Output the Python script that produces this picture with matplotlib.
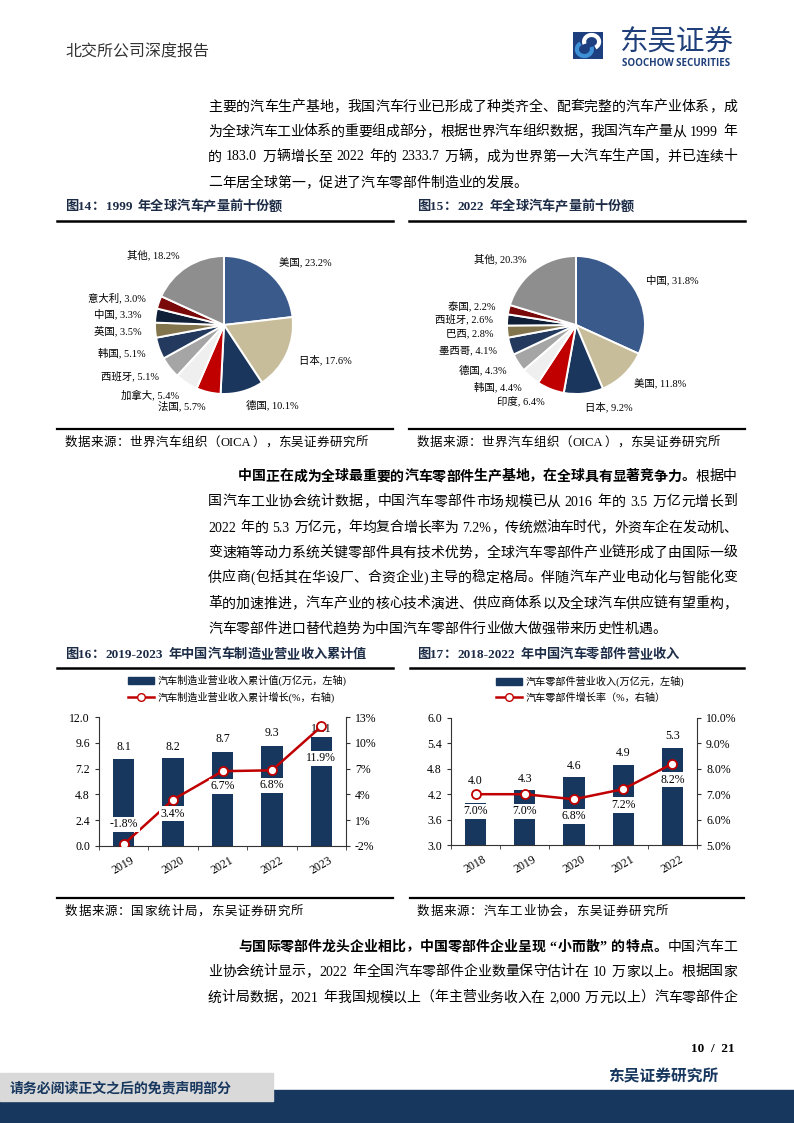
import re

import matplotlib

matplotlib.use("Agg")
import matplotlib.pyplot as plt  # noqa: E402
import numpy as np  # noqa: E402
from matplotlib.lines import Line2D  # noqa: E402
from matplotlib.patches import Arc, Patch, Rectangle  # noqa: E402
from matplotlib.ticker import FormatStrFormatter  # noqa: E402

W, H = 794, 1123
FAM = ["Liberation Serif", "Noto Sans CJK SC"]
plt.rcParams["font.family"] = FAM

# ---- data ----
pie1999_labels = ["美国", "日本", "德国", "法国", "加拿大", "西班牙", "韩国", "英国", "中国", "意大利", "其他"]
pie1999_values = [23.2, 17.6, 10.1, 5.7, 5.4, 5.1, 5.1, 3.5, 3.3, 3.0, 18.2]
pie2022_labels = ["中国", "美国", "日本", "印度", "韩国", "德国", "墨西哥", "巴西", "西班牙", "泰国", "其他"]
pie2022_values = [31.8, 11.8, 9.2, 6.4, 4.4, 4.3, 4.1, 2.8, 2.6, 2.2, 20.3]

mfg_years = ["2019", "2020", "2021", "2022", "2023"]
mfg_revenue = [8.1, 8.2, 8.7, 9.3, 10.1]
mfg_growth = [-1.8, 3.4, 6.7, 6.8, 11.9]

parts_years = ["2018", "2019", "2020", "2021", "2022"]
parts_revenue = [4.0, 4.3, 4.6, 4.9, 5.3]
parts_growth = [7.0, 7.0, 6.8, 7.2, 8.2]

# ---- styles ----
NAVY = "#17375e"
RED = "#c00000"
TITLE_C = "#1c2b46"
pie_colors = ["#3b5a8c", "#c8bd9b", "#1b365d", "#c00000", "#efefef", "#a5a5a5",
              "#233a5e", "#82744c", "#0f1f38", "#7a0a0a", "#8e8e8e"]

fig = plt.figure(figsize=(W / 100, H / 100), dpi=100)
renderer = fig.canvas.get_renderer()


def fx(x):
    return x / W


def fy(y):
    return 1 - y / H


def rect(x0, y0, x1, y1):
    return [fx(x0), fy(y1), (x1 - x0) / W, (y1 - y0) / H]


CJK = re.compile(r"[\u3000-\u303f\u4e00-\u9fff\uff00-\uffef]")


def tokenize(parts):
    toks = []
    space = False
    for text, weight in parts:
        buf = ""
        for ch in text:
            if ch == " " or CJK.match(ch):
                if buf:
                    toks.append((buf, weight, False, space))
                    space, buf = False, ""
                if ch == " ":
                    space = True
                else:
                    toks.append((ch, weight, True, space))
                    space = False
            else:
                buf += ch
        if buf:
            toks.append((buf, weight, False, space))
            space = False
    return toks


def draw_line(x0, y, parts, size=10, x1=None, color="black"):
    em = size * 100 / 72
    items = []
    for s, wt, cjk, sp in tokenize(parts):
        t = fig.text(0, fy(y), s, fontsize=size, fontweight=wt, color=color,
                     ha="left", va="center", family=FAM)
        w = em if cjk else t.get_window_extent(renderer).width + 1
        items.append((t, w, sp))
    natural = sum(w for _, w, _ in items) + sum(em * 0.3 for *_, sp in items if sp)
    extra = (x1 - x0 - natural) / (len(items) - 1) if x1 and len(items) > 1 else 0
    x = x0
    for t, w, sp in items:
        if sp:
            x += em * 0.3
        t.set_x(fx(x))
        x += w + extra


def hline(x0, x1, y, lw=1.6):
    fig.add_artist(Line2D([fx(x0), fx(x1)], [fy(y), fy(y)], transform=fig.transFigure,
                          color="black", lw=lw))


# ---- header ----
fig.text(fx(65), fy(52), "北交所公司深度报告", fontsize=11.5, color="#333333",
         ha="left", va="center", family=FAM)
logo = fig.add_axes(rect(573, 32, 603, 59))
logo.set_xlim(0, 1)
logo.set_ylim(0, 1)
logo.axis("off")
logo.add_patch(Rectangle((0, 0), 1, 1, color="#1d3f80"))
logo.add_patch(Arc((0.62, 0.64), 0.5, 0.5, theta1=-60, theta2=200, color="white", lw=3.0))
logo.add_patch(Arc((0.38, 0.36), 0.5, 0.5, theta1=120, theta2=380, color="#3d8fd6", lw=3.0))
fig.text(fx(620), fy(42), "东吴证券", fontsize=20.5, color="#1f3f7a", ha="left", va="center",
         family=["Noto Sans CJK SC"])
fig.text(fx(622), fy(64), "SOOCHOW SECURITIES", fontsize=7.0, color="#1f3f7a", ha="left",
         va="center", fontweight="bold", family=["Open Sans", "DejaVu Sans"])

# ---- paragraph 1 ----
R = "normal"
B = "bold"
TX0, TX1 = 208, 737
draw_line(TX0, 107, [("主要的汽车生产基地，我国汽车行业已形成了种类齐全、配套完整的汽车产业体系，成", R)], x1=TX1)
draw_line(TX0, 132, [("为全球汽车工业体系的重要组成部分，根据世界汽车组织数据，我国汽车产量从 1999 年", R)], x1=TX1)
draw_line(TX0, 157, [("的 183.0 万辆增长至 2022 年的 2333.7 万辆，成为世界第一大汽车生产国，并已连续十", R)], x1=TX1)
draw_line(TX0, 183, [("二年居全球第一，促进了汽车零部件制造业的发展。", R)])

# ---- pies ----
for cx, title in [(65, "图14：1999 年全球汽车产量前十份额"),
                  (417, "图15：2022 年全球汽车产量前十份额")]:
    draw_line(cx, 207, [(title, B)], size=9.5, color=TITLE_C)
    hline(cx - 8, cx + 328, 221, lw=1.8)
    hline(cx - 8, cx + 328, 429, lw=1.6)
    draw_line(cx, 443, [("数据来源：世界汽车组织（OICA），东吴证券研究所", R)], size=9, x1=cx + 303)

pie_centers = [224, 576]
for pc, labels, values in [(pie_centers[0], pie1999_labels, pie1999_values),
                           (pie_centers[1], pie2022_labels, pie2022_values)]:
    ax = fig.add_axes(rect(pc - 69, 256, pc + 69, 394))
    ax.pie(values, colors=pie_colors, startangle=90, counterclock=False,
           labels=[f"{l}, {v:.1f}%" for l, v in zip(labels, values)], labeldistance=1.2,
           wedgeprops=dict(edgecolor="white", linewidth=1.4),
           textprops=dict(fontsize=7.5, family=FAM))
    ax.set_xlim(-1, 1)
    ax.set_ylim(-1, 1)

# ---- paragraph 2 ----
draw_line(238, 477, [("中国正在成为全球最重要的汽车零部件生产基地，在全球具有显著竞争力。", B), ("根据中", R)], x1=TX1)
draw_line(TX0, 502, [("国汽车工业协会统计数据，中国汽车零部件市场规模已从 2016 年的 3.5 万亿元增长到", R)], x1=TX1)
draw_line(TX0, 528, [("2022 年的 5.3 万亿元，年均复合增长率为 7.2%，传统燃油车时代，外资车企在发动机、", R)], x1=TX1)
draw_line(TX0, 553, [("变速箱等动力系统关键零部件具有技术优势，全球汽车零部件产业链形成了由国际一级", R)], x1=TX1)
draw_line(TX0, 578, [("供应商(包括其在华设厂、合资企业)主导的稳定格局。伴随汽车产业电动化与智能化变", R)], x1=TX1)
draw_line(TX0, 604, [("革的加速推进，汽车产业的核心技术演进、供应商体系以及全球汽车供应链有望重构，", R)], x1=TX1)
draw_line(TX0, 629, [("汽车零部件进口替代趋势为中国汽车零部件行业做大做强带来历史性机遇。", R)])


# ---- bar + line panels ----
def bar_panel(rect_px, years, rev, growth, lticks, rticks, rfmt, bar_dy, line_dy,
              leg_labels, leg_xy):
    ax = fig.add_axes(rect(*rect_px))
    x = np.arange(len(years))
    ax.bar(x, rev, width=0.43, color=NAVY, zorder=2)
    ax.set_xlim(-0.5, len(years) - 0.5)
    ax.set_ylim(lticks[0], lticks[-1])
    ax.set_yticks(lticks)
    ax.yaxis.set_major_formatter(FormatStrFormatter("%.1f"))
    ax.set_xticks(x)
    ax.set_xticklabels(years, rotation=30)
    ax.set_xticks(np.arange(-0.5, len(years)), minor=True)
    ax.tick_params(axis="x", which="major", length=0, pad=6, labelsize=8.5)
    ax.tick_params(axis="x", which="minor", length=3, direction="out", color="#333333")
    ax.tick_params(axis="y", length=3, direction="out", labelsize=8.5, color="#333333")
    for s in ["left", "bottom"]:
        ax.spines[s].set_color("#333333")
    ax.spines["top"].set_visible(False)
    ax.spines["right"].set_visible(False)
    for xi, v, d in zip(x, rev, bar_dy):
        ax.annotate(f"{v:.1f}", (xi, v), xytext=(0, d * 0.72), textcoords="offset points",
                    ha="center", va="center", fontsize=8.5)

    ax2 = ax.twinx()
    ax2.plot(x, growth, color=RED, lw=1.8, marker="o", ms=6.5, mfc="white", mec=RED,
             mew=1.3, zorder=3)
    ax2.set_ylim(rticks[0], rticks[-1])
    ax2.set_yticks(rticks)
    ax2.yaxis.set_major_formatter(FormatStrFormatter(rfmt))
    ax2.tick_params(axis="y", length=3, direction="out", labelsize=8.5, color="#333333")
    for s in ["top", "left", "bottom"]:
        ax2.spines[s].set_visible(False)
    ax2.spines["right"].set_color("#333333")
    for xi, g, d in zip(x, growth, line_dy):
        ax2.annotate(f"{g:.1f}%", (xi, g), xytext=(0, d * 0.72), textcoords="offset points",
                     ha="center", va="center", fontsize=8.5, zorder=4,
                     bbox=dict(fc="white", ec="none", pad=1.2))

    handles = [Patch(fc=NAVY, ec=NAVY),
               Line2D([], [], color=RED, lw=1.8, marker="o", ms=5.5, mfc="white", mec=RED)]
    fig.legend(handles, leg_labels, loc="upper left", bbox_to_anchor=(fx(leg_xy[0]), fy(leg_xy[1])),
               frameon=False, handlelength=2.6, handletextpad=0.3,
               labelspacing=0.5, borderpad=0, borderaxespad=0, prop=dict(family=FAM, size=7.3))
    return ax


draw_line(65, 655, [("图16：2019-2023 年中国汽车制造业营业收入累计值", B)], size=9.5, color=TITLE_C)
draw_line(417, 655, [("图17：2018-2022 年中国汽车零部件营业收入", B)], size=9.5, color=TITLE_C)
hline(57, 393, 668, lw=1.8)
hline(410, 744, 668, lw=1.8)

bar_panel((99, 717, 346, 846), mfg_years, mfg_revenue, mfg_growth,
          [0.0, 2.4, 4.8, 7.2, 9.6, 12.0], [-2, 1, 4, 7, 10, 13], "%.0f%%",
          [12, 11, 13, 13, 8], [20, -14, -15, -15, -32],
          ["汽车制造业营业收入累计值(万亿元，左轴)", "汽车制造业营业收入累计增长(%，右轴)"],
          (128, 675))
bar_panel((451, 718, 697, 845), parts_years, parts_revenue, parts_growth,
          [3.0, 3.6, 4.2, 4.8, 5.4, 6.0], [5.0, 6.0, 7.0, 8.0, 9.0, 10.0], "%.1f%%",
          [22, 11, 11, 12, 12], [-17, -17, -17, -16, -16],
          ["汽车零部件营业收入(万亿元，左轴)", "汽车零部件增长率（%，右轴）"],
          (496, 676))

hline(57, 393, 898, lw=1.6)
hline(410, 744, 898, lw=1.6)
draw_line(65, 912, [("数据来源：国家统计局，东吴证券研究所", R)], size=9, x1=303)
draw_line(417, 912, [("数据来源：汽车工业协会，东吴证券研究所", R)], size=9, x1=668)

# ---- paragraph 3 ----
draw_line(238, 947, [("与国际零部件龙头企业相比，中国零部件企业呈现 “小而散” 的特点。", B), ("中国汽车工", R)], x1=TX1)
draw_line(TX0, 972, [("业协会统计显示，2022 年全国汽车零部件企业数量保守估计在 10 万家以上。根据国家", R)], x1=TX1)
draw_line(TX0, 998, [("统计局数据，2021 年我国规模以上（年主营业务收入在 2,000 万元以上）汽车零部件企", R)], x1=TX1)

# ---- footer ----
fig.text(fx(735), fy(1049), "10  /  21", fontsize=9.5, fontweight="bold", ha="right", va="center",
         family=["Liberation Serif"])
fig.text(fx(608), fy(1077), "东吴证券研究所", fontsize=11.3, fontweight="bold", color=NAVY,
         ha="left", va="center", family=["Noto Sans CJK SC"])
fig.add_artist(Rectangle((0, fy(1123)), 1, (1123 - 1090) / H, transform=fig.transFigure,
                         color=NAVY, zorder=0))
fig.add_artist(Rectangle((0, fy(1101)), 273 / W, (1101 - 1073) / H, transform=fig.transFigure,
                         color="#d9d9d9", zorder=1))
fig.text(fx(10), fy(1088), "请务必阅读正文之后的免责声明部分", fontsize=10, fontweight="bold",
         color=NAVY, ha="left", va="center", family=["Noto Sans CJK SC"], zorder=2)

fig.savefig("out.png", dpi=100)
